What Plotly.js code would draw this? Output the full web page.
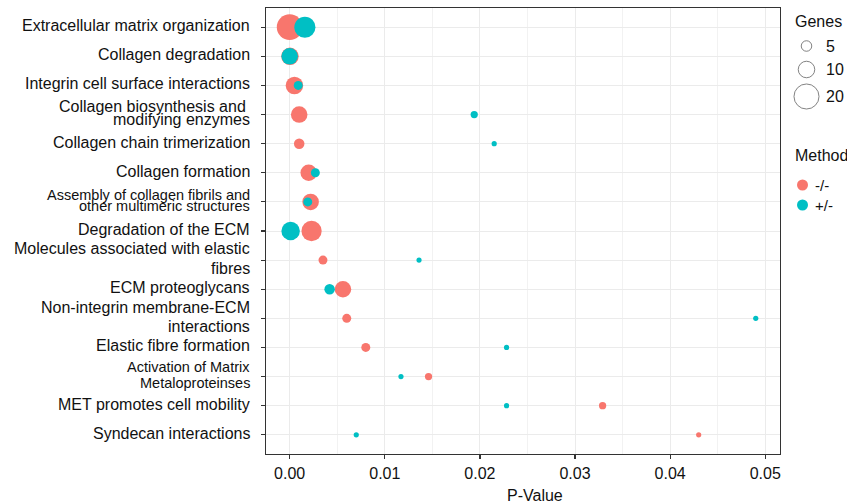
<!DOCTYPE html>
<html><head><meta charset="utf-8">
<script src="https://cdn.plot.ly/plotly-3.0.1.min.js"></script>
<style>html,body{margin:0;padding:0;background:#fff;overflow:hidden}#chart{width:847px;height:504px}</style>
</head><body><div id="chart"></div>
<script>
// ---------- data ----------
const categories = [
  "Extracellular matrix organization",
  "Collagen degradation",
  "Integrin cell surface interactions",
  "Collagen biosynthesis and\u00a0\nmodifying enzymes",
  "Collagen chain trimerization",
  "Collagen formation",
  "Assembly of collagen fibrils and\nother multimeric structures",
  "Degradation of the ECM",
  "Molecules associated with elastic\nfibres",
  "ECM proteoglycans",
  "Non-integrin membrane-ECM\ninteractions",
  "Elastic fibre formation",
  "Activation of Matrix\nMetaloproteinses",
  "MET promotes cell mobility",
  "Syndecan interactions"
];
// Method "-/-"
const pvalKO  = [0.0000, 0.00003, 0.0005, 0.0010, 0.0010, 0.0020, 0.0022, 0.0023, 0.0035, 0.0056, 0.0060, 0.0080, 0.0146, 0.0329, 0.0430];
const genesKO = [21, 11, 11, 10, 5, 10, 10, 14, 4, 10, 4, 4, 3, 3, 2];
// Method "+/-"
const pvalHet  = [0.0016, 0.0000, 0.0009, 0.0194, 0.0215, 0.0027, 0.0019, 0.0001, 0.0136, 0.0042, 0.0490, 0.0228, 0.0117, 0.0228, 0.0070];
const genesHet = [15, 10, 4, 3, 2, 4, 4, 12, 2, 5, 2, 2, 2, 2, 2];
const methodNames = ["-/-", "+/-"];
const genesLegend = [5, 10, 20];
const xTicks = [0, 0.01, 0.02, 0.03, 0.04, 0.05];

// ---------- styles ----------
const FONT = '"Liberation Sans", Arial, Helvetica, sans-serif';
const RED = '#F8766D', TEAL = '#00BFC4';
const labelSize    = [16,16,16,16,16,16,14.5,16,16,16,16,16,14.5,16,16];
const labelLeading = [0,0,0,13.5,0,0,11.5,0,19.5,0,19.5,0,16.7,0,0];
const sizeOf = g => -4 + 6.49 * Math.sqrt(g);   // gene count -> marker diameter (px)

const W = 847, plotLeft = 266, plotRight = 780, plotTop = 8, plotBottom = 454;
const mainFrac = (plotRight - plotLeft) / (W - plotLeft);

const traces = [
  {type:'scatter', mode:'markers', x:pvalKO, y:categories, name:methodNames[0],
   marker:{color:RED, size:genesKO.map(sizeOf), line:{width:0}, opacity:1},
   hoverinfo:'skip', cliponaxis:false},
  {type:'scatter', mode:'markers', x:pvalHet, y:categories, name:methodNames[1],
   marker:{color:TEAL, size:genesHet.map(sizeOf), line:{width:0}, opacity:1},
   hoverinfo:'skip', cliponaxis:false},
  // legend: gene-size circles
  {type:'scatter', mode:'markers', xaxis:'x2', yaxis:'y2',
   x:genesLegend.map(()=>806.5), y:[46, 69.5, 96.5],
   marker:{color:'rgba(0,0,0,0)', size:genesLegend.map(sizeOf), line:{color:'#222', width:0.8}},
   hoverinfo:'skip', cliponaxis:false},
  // legend: method dots
  {type:'scatter', mode:'markers', xaxis:'x2', yaxis:'y2',
   x:[802.5, 802.5], y:[185, 205],
   marker:{color:[RED, TEAL], size:11, line:{width:0}},
   hoverinfo:'skip', cliponaxis:false}
];

const annotations = [];
categories.forEach((c, i) => {
  const lines = c.split('\n');
  const n = lines.length;
  lines.forEach((t, j) => {
    annotations.push({
      xref:'paper', x:0, xanchor:'right', xshift:-14,
      yref:'y', y:i, yanchor:'middle',
      yshift: 1.5 - (j - (n-1)/2) * labelLeading[i],
      text:t, showarrow:false, align:'right',
      font:{family:FONT, size:labelSize[i], color:'#111'}
    });
  });
});
// legend texts
annotations.push({xref:'x2', yref:'y2', x:793, y:21.5, xanchor:'left', yanchor:'middle', text:'Genes', showarrow:false, font:{family:FONT, size:16, color:'#111'}});
genesLegend.forEach((g, k) => annotations.push({xref:'x2', yref:'y2', x:824, y:[46, 69.5, 96.5][k], xanchor:'left', yanchor:'middle', text:String(g), showarrow:false, font:{family:FONT, size:16, color:'#111'}}));
annotations.push({xref:'x2', yref:'y2', x:793, y:155, xanchor:'left', yanchor:'middle', text:'Method', showarrow:false, font:{family:FONT, size:16, color:'#111'}});
methodNames.forEach((m, k) => annotations.push({xref:'x2', yref:'y2', x:813, y:[185, 205][k], xanchor:'left', yanchor:'middle', text:m, showarrow:false, font:{family:FONT, size:15, color:'#111'}}));
// x-axis title
annotations.push({xref:'paper', yref:'paper', x:(535 - plotLeft)/(W - plotLeft), y:0, xanchor:'center', yanchor:'middle', yshift:-41, text:'P-Value', showarrow:false, font:{family:FONT, size:16, color:'#111'}});

const layout = {
  width:W, height:504,
  margin:{l:plotLeft, r:0, t:plotTop, b:504 - plotBottom, pad:0},
  paper_bgcolor:'#fff', plot_bgcolor:'#fff',
  showlegend:false,
  font:{family:FONT, color:'#111'},
  xaxis:{domain:[0, mainFrac], range:[-0.00249, 0.05155], tickvals:xTicks, tickformat:'.2f',
         ticks:'outside', ticklen:4, tickwidth:1.2, tickcolor:'#333',
         tickfont:{family:FONT, size:16, color:'#111'},
         showgrid:true, gridcolor:'#EBEBEB', gridwidth:1,
         minor:{dtick:0.005, tick0:0, showgrid:true, gridcolor:'#F2F2F2', gridwidth:1, ticks:''},
         zeroline:false, showline:true, linecolor:'#333', linewidth:1.3, mirror:true, fixedrange:true},
  yaxis:{type:'category', categoryorder:'array', categoryarray:categories, range:[14.66, -0.66],
         ticks:'outside', ticklen:4, tickwidth:1.2, tickcolor:'#333', showticklabels:false,
         showgrid:true, gridcolor:'#EBEBEB', gridwidth:1,
         zeroline:false, showline:true, linecolor:'#333', linewidth:1.3, mirror:true, fixedrange:true},
  xaxis2:{domain:[mainFrac, 1], range:[plotRight, W], anchor:'y2', visible:false, fixedrange:true},
  yaxis2:{domain:[0, 1], range:[plotBottom, plotTop], anchor:'x2', visible:false, fixedrange:true},
  annotations:annotations
};

Plotly.newPlot('chart', traces, layout, {displayModeBar:false, staticPlot:true});
</script>
</body></html>
